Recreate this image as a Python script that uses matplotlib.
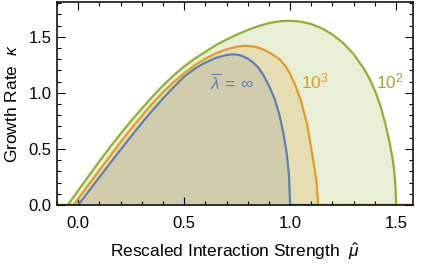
import numpy as np
import matplotlib
matplotlib.use("Agg")
import matplotlib.pyplot as plt
from matplotlib.ticker import MultipleLocator

plt.rcParams['font.family'] = ['Liberation Sans', 'DejaVu Sans']
plt.rcParams['mathtext.fontset'] = 'custom'
plt.rcParams['mathtext.rm'] = 'Liberation Sans'
plt.rcParams['mathtext.it'] = 'Liberation Sans:italic'
plt.rcParams['mathtext.bf'] = 'Liberation Sans:bold'

# curves: rescaled interaction strength mu -> growth rate kappa
mu_inf = [0.00, 0.05, 0.10, 0.15, 0.20, 0.25, 0.30, 0.35, 0.40, 0.45, 0.50, 0.55,
          0.60, 0.65, 0.70, 0.73, 0.76, 0.775, 0.80, 0.825, 0.85, 0.875, 0.90, 0.915,
          0.93, 0.95, 0.97, 0.985, 0.995, 1.00]
k_inf = [0.000, 0.124, 0.248, 0.371, 0.493, 0.613, 0.730, 0.843, 0.950, 1.050, 1.145,
         1.215, 1.270, 1.312, 1.337, 1.343, 1.337, 1.328, 1.305, 1.272, 1.225, 1.155,
         1.065, 1.000, 0.930, 0.800, 0.625, 0.445, 0.260, 0.000]

mu_1e3 = [-0.022, 0.00, 0.05, 0.10, 0.15, 0.20, 0.25, 0.30, 0.35, 0.40, 0.45, 0.50,
          0.55, 0.60, 0.65, 0.70, 0.75, 0.79, 0.83, 0.87, 0.90, 0.95, 0.975, 1.00,
          1.025, 1.05, 1.065, 1.08, 1.09, 1.10, 1.115, 1.125, 1.132]
k_1e3 = [0.000, 0.056, 0.183, 0.310, 0.435, 0.560, 0.680, 0.795, 0.905, 1.005, 1.095,
         1.175, 1.245, 1.305, 1.352, 1.388, 1.412, 1.420, 1.413, 1.390, 1.362, 1.300,
         1.245, 1.170, 1.065, 0.936, 0.830, 0.720, 0.615, 0.500, 0.330, 0.200, 0.000]

mu_1e2 = [-0.049, 0.00, 0.05, 0.10, 0.15, 0.20, 0.25, 0.30, 0.35, 0.40, 0.45, 0.50,
          0.55, 0.60, 0.65, 0.70, 0.75, 0.80, 0.85, 0.90, 0.95, 1.00, 1.05, 1.10,
          1.15, 1.20, 1.25, 1.30, 1.35, 1.375, 1.40, 1.415, 1.43, 1.445, 1.46, 1.47,
          1.48, 1.49, 1.497, 1.50]
k_1e2 = [0.000, 0.130, 0.260, 0.390, 0.515, 0.635, 0.750, 0.860, 0.965, 1.065, 1.155,
         1.235, 1.305, 1.365, 1.425, 1.475, 1.520, 1.560, 1.595, 1.622, 1.638, 1.643,
         1.635, 1.613, 1.575, 1.520, 1.445, 1.345, 1.210, 1.125, 1.020, 0.945, 0.860,
         0.755, 0.640, 0.550, 0.450, 0.330, 0.180, 0.000]

curves = [
    (mu_1e2, k_1e2, '#8FB032', r'$10^2$', (1.47, 1.10)),
    (mu_inf, k_inf, '#5E81B5', r'$\overline{\lambda}\,=\,\infty$', (0.725, 1.09)),
    (mu_1e3, k_1e3, '#E19C24', r'$10^3$', (1.115, 1.10)),
]

xlim = (-0.1, 1.58)
ylim = (0.0, 1.81)

fig = plt.figure(figsize=(4.21, 2.65), dpi=100)
ax = fig.add_axes([0.1354, 0.2264, 0.8456, 0.7661])

for mu, k, col, lab, pos in curves:
    ax.fill_between(mu, 0, k, color=col, alpha=0.2, linewidth=0, zorder=1)
for mu, k, col, lab, pos in curves:
    xs = [xlim[0]] + list(mu) + [xlim[1]]
    ys = [0.0] + list(k) + [0.0]
    ax.plot(xs, ys, color=col, lw=1.6, zorder=2, solid_joinstyle='round')
    ax.text(pos[0], pos[1], lab, color=col, fontsize=12.5, ha='center', va='center')

ax.set_xlim(*xlim)
ax.set_ylim(*ylim)
ax.xaxis.set_major_locator(MultipleLocator(0.5))
ax.xaxis.set_minor_locator(MultipleLocator(0.1))
ax.yaxis.set_major_locator(MultipleLocator(0.5))
ax.yaxis.set_minor_locator(MultipleLocator(0.1))
ax.xaxis.set_major_formatter(plt.FuncFormatter(lambda v, p: f'{v:.1f}'))
ax.yaxis.set_major_formatter(plt.FuncFormatter(lambda v, p: f'{v:.1f}'))
ax.tick_params(which='both', direction='in', top=True, right=True, width=0.8,
               color='black', labelsize=12)
ax.tick_params(which='major', length=5.5)
ax.tick_params(which='minor', length=3)
ax.tick_params(axis='x', which='major', pad=8)
ax.tick_params(axis='y', which='major', pad=4)
for s in ax.spines.values():
    s.set_linewidth(1.1)
    s.set_zorder(3)

ax.set_xlabel(r'Rescaled Interaction Strength  $\hat{\mu}$', fontsize=12.5, labelpad=7.5)
ax.set_ylabel(r'Growth Rate  $\kappa$', fontsize=12.5, labelpad=6)

fig.savefig('out.png', dpi=100)
